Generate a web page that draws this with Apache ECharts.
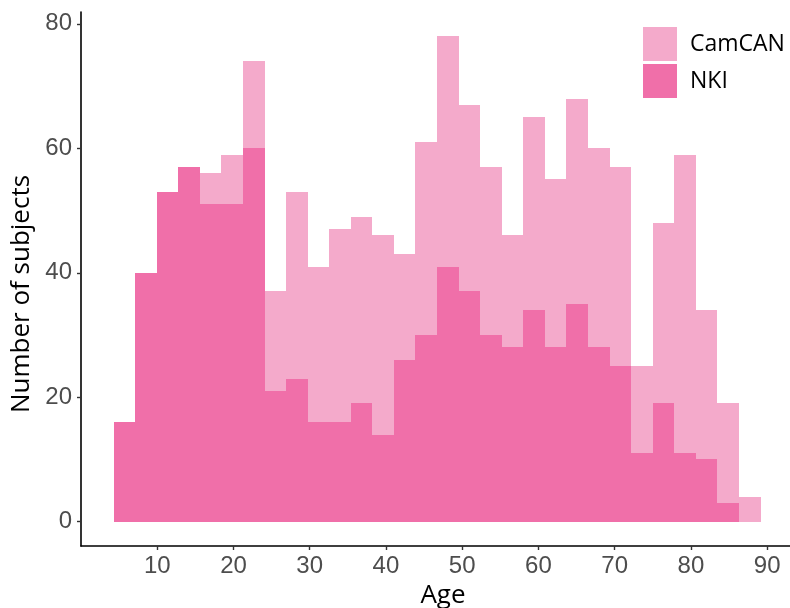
<!DOCTYPE html>
<html>
<head>
<meta charset="utf-8">
<script src="https://cdn.jsdelivr.net/npm/echarts@6/dist/echarts.min.js"></script>
<style>html,body{margin:0;padding:0;background:#fff;}#chart{width:790px;height:608px;}</style>
</head>
<body>
<div id="chart"></div>
<script>
// Histogram bins (age, years)
const binStart = 4.27;
const binWidth = 2.829;
// Counts per bin
const camcanCounts = [0,0,0,0,56,59,74,37,53,41,47,49,46,43,61,78,67,57,46,65,55,68,60,57,25,48,59,34,19,4];
const nkiCounts    = [16,40,53,57,51,51,60,21,23,16,16,19,14,26,30,41,37,30,28,34,28,35,28,25,11,19,11,10,3,0];
const xTicks = [10,20,30,40,50,60,70,80,90];
const yTicks = [0,20,40,60,80];
const seriesNames = ['CamCAN','NKI'];

function toBins(counts){
  return counts.map((c,i)=>[binStart+i*binWidth, binStart+(i+1)*binWidth, c]);
}
function renderBar(params, api){
  const v = api.value(2);
  if (!v) return null;
  const p0 = api.coord([api.value(0), v]);
  const p1 = api.coord([api.value(1), 0]);
  const x0 = Math.round(p0[0]), x1 = Math.round(p1[0]);
  const y0 = Math.round(p0[1]), y1 = Math.round(p1[1]);
  return {
    type:'rect',
    shape:{x:x0, y:y0, width:x1-x0, height:y1-y0},
    style:{fill: api.visual('color')}
  };
}

const chart = echarts.init(document.getElementById('chart'), null, {renderer:'canvas'});
chart.setOption({
  animation:false,
  backgroundColor:'#ffffff',
  grid:{left:81, right:0, top:12, bottom:62, containLabel:false, outerBoundsMode:'none'},
  legend:{
    orient:'vertical', left:643, top:27, padding:0, itemWidth:34, itemHeight:34, itemGap:3,
    icon:'rect', data:seriesNames,
    textStyle:{fontFamily:'Open Sans', fontSize:23, color:'#000', padding:[0,0,0,8]}
  },
  xAxis:{
    type:'value', min:0, max:93, interval:10,
    name:'Age', nameLocation:'middle', nameGap:32,
    nameTextStyle:{fontFamily:'Open Sans', fontSize:26, color:'#000', padding:[0,0,0,15]},
    axisLine:{show:true, onZero:false, lineStyle:{color:'#000', width:1.6}},
    axisTick:{show:true, length:4, lineStyle:{color:'#333', width:1.4},
      customValues: xTicks},
    axisLabel:{fontFamily:'Liberation Sans', fontSize:24, color:'#4D4D4D', margin:8,
      customValues: xTicks},
    splitLine:{show:false}
  },
  yAxis:{
    type:'value', min:-3.9, max:81.9,
    name:'Number of subjects', nameLocation:'middle', nameGap:44,
    nameTextStyle:{fontFamily:'Open Sans', fontSize:26, color:'#000', padding:[0,30,0,0]},
    axisLine:{show:true, onZero:false, lineStyle:{color:'#000', width:1.6}},
    axisTick:{show:true, length:4, lineStyle:{color:'#333', width:1.4},
      customValues: yTicks},
    axisLabel:{fontFamily:'Liberation Sans', fontSize:24, color:'#4D4D4D', margin:9,
      customValues: yTicks},
    splitLine:{show:false}
  },
  series:[
    {name:seriesNames[0], type:'custom', renderItem:renderBar,
     itemStyle:{color:'#F4AACB'}, encode:{x:[0,1], y:2}, data:toBins(camcanCounts)},
    {name:seriesNames[1], type:'custom', renderItem:renderBar,
     itemStyle:{color:'#F06FA9'}, encode:{x:[0,1], y:2}, data:toBins(nkiCounts)}
  ]
});
</script>
</body>
</html>
